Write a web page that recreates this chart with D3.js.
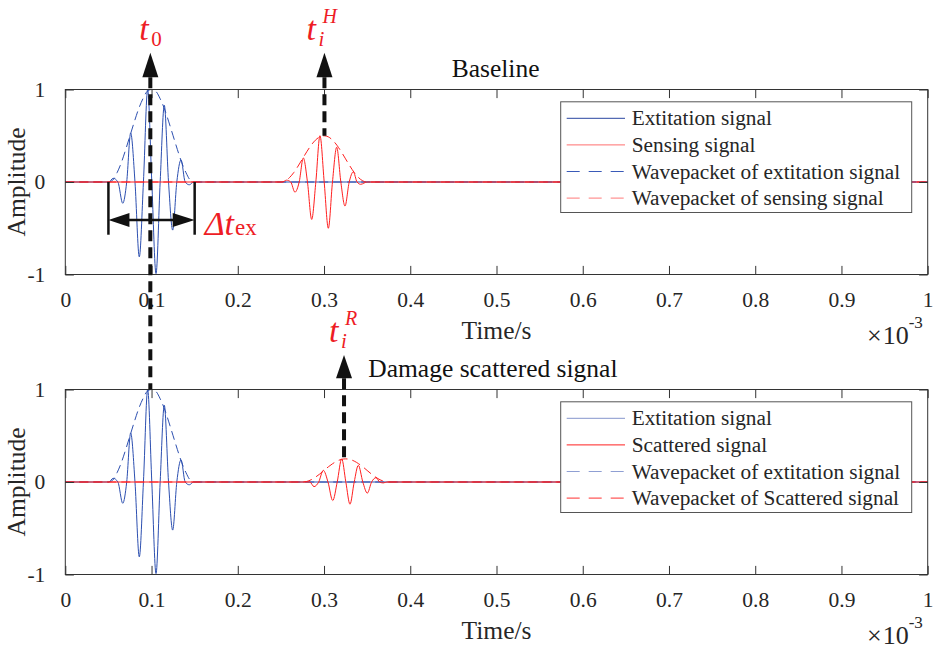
<!DOCTYPE html>
<html>
<head>
<meta charset="utf-8">
<script src="https://cdn.jsdelivr.net/npm/d3@7"></script>
<style>
  body { margin: 0; background: #fff; }
  svg { display: block; }
</style>
</head>
<body>
<div id="chart"></div>
<script>
// time in ms (axis shows x10^-3 s)
const xTicks = [0, 0.1, 0.2, 0.3, 0.4, 0.5, 0.6, 0.7, 0.8, 0.9, 1];
const xTickLabels = ["0", "0.1", "0.2", "0.3", "0.4", "0.5", "0.6", "0.7", "0.8", "0.9", "1"];
const yTicks = [-1, 0, 1];
const yTickLabels = ["-1", "0", "1"];

// excitation tone burst (same in both panels), read at zero crossings and peaks
const exTime = [0, 0.0505, 0.0555, 0.061, 0.0666, 0.0712, 0.0758, 0.0808, 0.0858, 0.0906, 0.0955, 0.1003,
  0.1052, 0.11, 0.1148, 0.1197, 0.1245, 0.1293, 0.1342, 0.139, 0.1438, 0.149, 1];
const exAmp = [0, 0, 0.04, 0, -0.23, 0, 0.53, 0, -0.81, 0, 1.0, 0,
  -0.99, 0, 0.83, 0, -0.52, 0, 0.24, 0, -0.03, 0, 0];
const exEnvTime = [0, 0.05, 0.055, 0.06, 0.065, 0.07, 0.075, 0.08, 0.085, 0.09, 0.095, 0.1,
  0.105, 0.11, 0.115, 0.12, 0.125, 0.13, 0.135, 0.14, 0.145, 0.15, 1];
const exEnvAmp = [0, 0, 0.02, 0.1, 0.21, 0.35, 0.5, 0.65, 0.79, 0.9, 0.98, 1.0,
  0.98, 0.9, 0.79, 0.65, 0.5, 0.35, 0.21, 0.1, 0.02, 0, 0];

// baseline sensing signal
const sensTime = [0, 0.252, 0.2565, 0.2614, 0.2663, 0.2712, 0.276, 0.2808, 0.2857, 0.2905, 0.2953, 0.3002,
  0.305, 0.3098, 0.3147, 0.3195, 0.3243, 0.3292, 0.334, 0.3383, 0.3425, 0.35, 1];
const sensAmp = [0, 0, 0.02, 0, -0.11, 0, 0.26, 0, -0.405, 0, 0.5, 0,
  -0.5, 0, 0.376, 0, -0.26, 0, 0.11, 0, -0.025, 0, 0];
const sensEnvTime = [0, 0.25, 0.255, 0.26, 0.265, 0.27, 0.275, 0.28, 0.285, 0.29, 0.295, 0.3,
  0.305, 0.31, 0.315, 0.32, 0.325, 0.33, 0.335, 0.34, 0.345, 0.35, 1];
const sensEnvAmp = [0, 0, 0.012, 0.048, 0.103, 0.173, 0.25, 0.327, 0.397, 0.452, 0.488, 0.5,
  0.488, 0.452, 0.397, 0.327, 0.25, 0.173, 0.103, 0.048, 0.012, 0, 0];

// damage scattered signal
const scatTime = [0, 0.279, 0.2835, 0.2884, 0.2938, 0.2992, 0.3046, 0.3101, 0.3153, 0.3205, 0.3253, 0.3301,
  0.335, 0.3398, 0.345, 0.3502, 0.3552, 0.3603, 0.3645, 0.3687, 0.373, 1];
const scatAmp = [0, 0, 0, -0.05, 0, 0.126, 0, -0.2, 0, 0.25, 0, -0.24,
  0, 0.18, 0, -0.12, 0, 0.047, 0, -0.01, 0, 0];
const scatEnvTime = [0, 0.275, 0.28, 0.285, 0.29, 0.295, 0.3, 0.305, 0.31, 0.315, 0.32, 0.325,
  0.33, 0.335, 0.34, 0.345, 0.35, 0.355, 0.36, 0.365, 0.37, 0.375, 1];
const scatEnvAmp = [0, 0, 0.006, 0.024, 0.052, 0.086, 0.125, 0.164, 0.198, 0.226, 0.244, 0.25,
  0.244, 0.226, 0.198, 0.164, 0.125, 0.086, 0.052, 0.024, 0.006, 0, 0];

// arrival times marked with arrows (ms)
const t0Time = 0.0986;
const tHTime = 0.3005;
const tRTime = 0.3232;
const burstStart = 0.05;
const burstEnd = 0.15;

const topLegend = ["Extitation signal", "Sensing signal", "Wavepacket of extitation signal", "Wavepacket of sensing signal"];
const bottomLegend = ["Extitation signal", "Scattered signal", "Wavepacket of extitation signal", "Wavepacket of Scattered signal"];

const W = 935, H = 648;
const BLUE = "#2c4fb0", RED = "#ff1f1f", ANN = "#ee1c25", AX = "#333";
const SERIF = '"Liberation Serif", "Times New Roman", "DejaVu Serif", serif';

const svg = d3.select("#chart").append("svg").attr("width", W).attr("height", H);

const x = d3.scaleLinear().domain([0, 1]).range([65.3, 927.7]);
const yTop = d3.scaleLinear().domain([-1, 1]).range([274.5, 89.5]);
const yBot = d3.scaleLinear().domain([-1, 1]).range([574.5, 389.5]);

const zip = (t, a) => t.map((v, i) => [v, a[i]]);

function panel(y, series, legendItems, title, titleX) {
  const g = svg.append("g");
  const line = d3.line().x(d => x(d[0])).y(d => y(d[1])).curve(d3.curveMonotoneX);

  series.forEach(s => {
    g.append("path").datum(s.data)
      .attr("d", line)
      .attr("fill", "none")
      .attr("stroke", s.color)
      .attr("stroke-width", 1)
      .attr("stroke-dasharray", s.dash || null);
  });

  const [x0, x1] = x.range();
  const [yb, yt] = y.range();
  g.append("rect").attr("x", x0).attr("y", yt).attr("width", x1 - x0).attr("height", yb - yt)
    .attr("fill", "none").attr("stroke", AX).attr("stroke-width", 1);

  // inward ticks on all four sides
  const tl = 8.6;
  g.append("g").attr("transform", `translate(0,${yb})`)
    .call(d3.axisBottom(x).tickValues(xTicks).tickSizeInner(-tl).tickSizeOuter(0).tickFormat((d, i) => xTickLabels[i]).tickPadding(17))
    .call(a => a.select(".domain").remove())
    .call(a => a.selectAll("line").attr("stroke", AX))
    .call(a => a.selectAll("text").attr("font-size", 21.5).attr("fill", "#262626"));
  g.append("g").attr("transform", `translate(0,${yt})`)
    .call(d3.axisTop(x).tickValues(xTicks).tickSizeInner(-tl).tickSizeOuter(0).tickFormat(""))
    .call(a => a.select(".domain").remove())
    .call(a => a.selectAll("line").attr("stroke", AX));
  g.append("g").attr("transform", `translate(${x0},0)`)
    .call(d3.axisLeft(y).tickValues(yTicks).tickSizeInner(-tl).tickSizeOuter(0).tickFormat((d, i) => yTickLabels[i]).tickPadding(20))
    .call(a => a.select(".domain").remove())
    .call(a => a.selectAll("line").attr("stroke", AX))
    .call(a => a.selectAll("text").attr("font-size", 21.5).attr("fill", "#262626"));
  g.append("g").attr("transform", `translate(${x1},0)`)
    .call(d3.axisRight(y).tickValues(yTicks).tickSizeInner(-tl).tickSizeOuter(0).tickFormat(""))
    .call(a => a.select(".domain").remove())
    .call(a => a.selectAll("line").attr("stroke", AX));

  // labels
  g.append("text").attr("transform", `translate(24.5,${(yt + yb) / 2}) rotate(-90)`)
    .attr("text-anchor", "middle").attr("font-size", 25.5).attr("fill", "#262626").text("Amplitude");
  g.append("text").attr("x", (x0 + x1) / 2).attr("y", yb + 64)
    .attr("text-anchor", "middle").attr("font-size", 25.5).attr("fill", "#262626").text("Time/s");
  const ex = g.append("text").attr("x", 867).attr("y", yb + 69).attr("font-size", 26).attr("fill", "#262626");
  ex.append("tspan").text("\u00d7");
  ex.append("tspan").attr("dx", 1).text("10");
  ex.append("tspan").attr("dy", -16).attr("font-size", 17).text("-3");

  g.append("text").attr("x", titleX).attr("y", yt - 12.5).attr("font-size", 25.5).attr("fill", "#111").text(title);

  // legend
  const lx = 560.7, ly = yt + 12.3, lw = 351, lh = 110.7;
  const lg = g.append("g");
  lg.append("rect").attr("x", lx).attr("y", ly).attr("width", lw).attr("height", lh)
    .attr("fill", "#fff").attr("stroke", "#555").attr("stroke-width", 1);
  legendItems.forEach((it, i) => {
    const yy = ly + 16.5 + i * 26.6;
    lg.append("line").attr("x1", lx + 6).attr("x2", lx + 64.3).attr("y1", yy).attr("y2", yy)
      .attr("stroke", it.color).attr("stroke-width", 1).attr("stroke-dasharray", it.dash || null);
    lg.append("text").attr("x", lx + 71).attr("y", yy).attr("dy", "0.33em")
      .attr("font-size", 21.3).attr("fill", "#262626").text(it.label);
  });
}

panel(yTop, [
  { data: zip(exTime, exAmp), color: BLUE },
  { data: zip(exEnvTime, exEnvAmp), color: BLUE, dash: "9,5" },
  { data: zip(sensTime, sensAmp), color: RED },
  { data: zip(sensEnvTime, sensEnvAmp), color: RED, dash: "9,5" }
], [
  { label: topLegend[0], color: "#2a45a0" },
  { label: topLegend[1], color: "#ff6e6e" },
  { label: topLegend[2], color: "#3a5ab8", dash: "13,9" },
  { label: topLegend[3], color: "#ff7a7a", dash: "13,9" }
], "Baseline", 451.7);

panel(yBot, [
  { data: zip(exTime, exAmp), color: BLUE },
  { data: zip(exEnvTime, exEnvAmp), color: BLUE, dash: "9,5" },
  { data: zip(scatTime, scatAmp), color: RED },
  { data: zip(scatEnvTime, scatEnvAmp), color: RED, dash: "9,5" }
], [
  { label: bottomLegend[0], color: "#8595cc" },
  { label: bottomLegend[1], color: "#ff2020" },
  { label: bottomLegend[2], color: "#8f9fd3", dash: "13,9" },
  { label: bottomLegend[3], color: "#ff3030", dash: "13,9" }
], "Damage scattered signal", 368.3);

// annotations
const ann = svg.append("g");
function upArrow(cx, tip, base, bottom) {
  ann.append("path")
    .attr("d", `M${cx},${tip}L${cx - 8},${base}L${cx + 8},${base}Z`)
    .attr("fill", "#111");
  ann.append("line").attr("x1", cx).attr("x2", cx).attr("y1", base).attr("y2", bottom)
    .attr("stroke", "#111").attr("stroke-width", 4).attr("stroke-dasharray", "11,6");
}
upArrow(x(t0Time), 52.7, 77.3, yBot(1));
upArrow(x(tHTime), 52.7, 77.3, yTop(0.5));
upArrow(x(tRTime), 355, 378.3, yBot(0.25));

function tLabel(px, base, sub, sup) {
  ann.append("text").attr("x", px).attr("y", base).attr("font-size", 34).attr("font-style", "italic")
    .attr("fill", ANN).text("t");
  ann.append("text").attr("x", px + 12).attr("y", base + 6).attr("font-size", 21)
    .attr("font-style", sub.italic ? "italic" : "normal").attr("fill", ANN).text(sub.text);
  if (sup) {
    ann.append("text").attr("x", px + 16).attr("y", base - 16.7).attr("font-size", 20)
      .attr("font-style", "italic").attr("fill", ANN).text(sup);
  }
}
tLabel(x(t0Time) - 11, 40, { text: "0", italic: false });
tLabel(x(tHTime) - 18, 40, { text: "i", italic: true }, "H");
tLabel(x(tRTime) - 15, 341.7, { text: "i", italic: true }, "R");

// burst duration
const bx0 = x(burstStart), bx1 = x(burstEnd), by = yTop(-0.41);
[bx0, bx1].forEach(bx => {
  ann.append("line").attr("x1", bx).attr("x2", bx).attr("y1", yTop(0)).attr("y2", yTop(-0.57))
    .attr("stroke", "#111").attr("stroke-width", 2.5);
});
ann.append("line").attr("x1", bx0 + 15).attr("x2", bx1 - 15).attr("y1", by).attr("y2", by)
  .attr("stroke", "#111").attr("stroke-width", 2.5);
ann.append("path").attr("d", `M${bx0},${by}L${bx0 + 21},${by - 7}L${bx0 + 21},${by + 7}Z`).attr("fill", "#111");
ann.append("path").attr("d", `M${bx1},${by}L${bx1 - 22},${by - 7}L${bx1 - 22},${by + 7}Z`).attr("fill", "#111");
const dt = ann.append("text").attr("x", bx1 + 10).attr("y", yTop(-0.57)).attr("fill", ANN);
dt.append("tspan").attr("font-size", 34).attr("font-style", "italic").text("\u0394t");
dt.append("tspan").attr("font-size", 23).attr("dx", 1).text("ex");

// one serif face for every label
svg.selectAll("text").style("font-family", SERIF);
</script>
</body>
</html>
